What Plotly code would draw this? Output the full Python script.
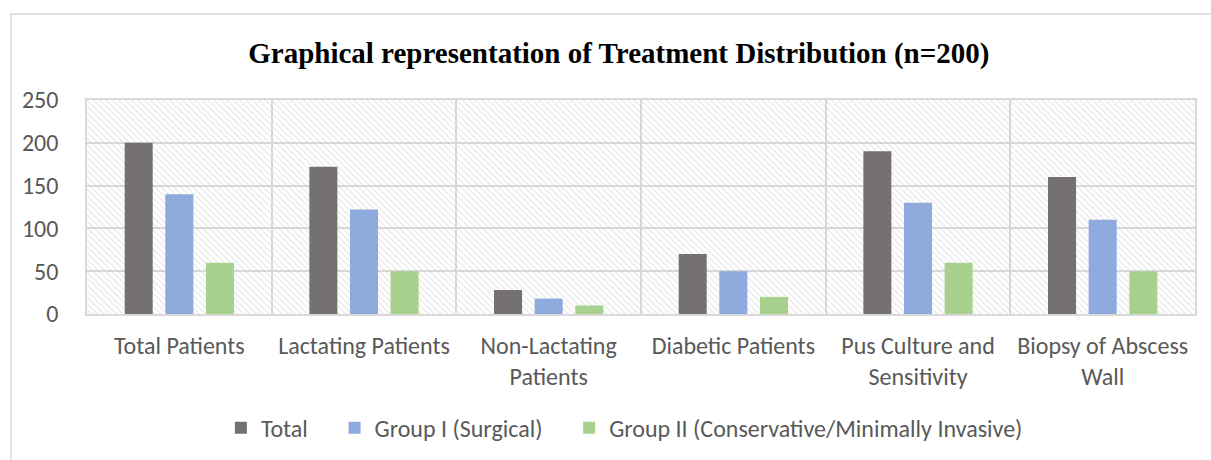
import plotly.graph_objects as go

categories = ["Total Patients", "Lactating Patients", "Non-Lactating<br>Patients",
              "Diabetic Patients", "Pus Culture and<br>Sensitivity", "Biopsy of Abscess<br>Wall"]
total = [200, 172, 28, 70, 190, 160]
group1 = [140, 122, 18, 50, 130, 110]
group2 = [60, 50, 10, 20, 60, 50]
y_ticks = [0, 50, 100, 150, 200, 250]

series = [
    ("Total", total, "#767171"),
    ("Group I (Surgical)", group1, "#8FAADC"),
    ("Group II (Conservative/Minimally Invasive)", group2, "#A9D18E"),
]

FONT = "Carlito, Lato, 'Liberation Sans', sans-serif"
GRID = "#D9D9D9"
FS = 24
PAD = "\u00a0" * 4  # extra spacing between legend entries

fig = go.Figure()

# hatched plot-area background (decoration) on the hidden main axes
fig.add_trace(go.Bar(
    x=[0.5], y=[1], width=[1], xaxis="x", yaxis="y",
    marker=dict(color="rgba(0,0,0,0)", line=dict(width=0),
                pattern=dict(shape="\\", fgcolor="#C9C9C9", bgcolor="rgba(0,0,0,0)",
                             size=4.5, solidity=0.25)),
    showlegend=False, hoverinfo="skip",
))

for i, (name, vals, color) in enumerate(series):
    fig.add_trace(go.Bar(
        x=categories, y=vals, name=name + (PAD if i < len(series) - 1 else ""),
        xaxis="x2", yaxis="y2",
        marker=dict(color=color, line=dict(width=0)),
    ))

fig.update_layout(
    width=1211, height=460,
    margin=dict(l=87, r=16, t=100, b=146, autoexpand=False),
    paper_bgcolor="white", plot_bgcolor="white",
    barmode="group", bargap=0.34, bargroupgap=0.31,
    font=dict(family=FONT, size=FS, color="#595959"),
    title=dict(text="<b>Graphical representation of Treatment Distribution (n=200)</b>",
               x=0.511, xref="container", xanchor="center",
               y=1 - 53 / 460, yref="container", yanchor="middle",
               font=dict(family="'Liberation Serif', 'Times New Roman', serif", size=29, color="black")),
    xaxis=dict(range=[0, 1], visible=False, fixedrange=True, automargin=False),
    yaxis=dict(range=[0, 1], visible=False, fixedrange=True, automargin=False),
    xaxis2=dict(overlaying="x", anchor="y2", type="category", side="bottom",
                tickson="boundaries", showgrid=True, gridcolor=GRID, gridwidth=1.5,
                showline=True, linecolor=GRID, linewidth=1.5, mirror=True, automargin=False,
                ticks="", ticklabelstandoff=9, tickfont=dict(size=FS, color="#595959")),
    yaxis2=dict(overlaying="y", anchor="x2", side="left", range=[0, 250],
                tickvals=y_ticks, showgrid=True, gridcolor=GRID, gridwidth=1.5,
                showline=True, linecolor=GRID, linewidth=1.5, mirror=True, automargin=False,
                ticks="", ticklabelstandoff=22, zeroline=False,
                tickfont=dict(size=FS, color="#595959")),
    legend=dict(orientation="h", x=0.485, xanchor="center", y=-0.533, yanchor="middle",
                font=dict(size=FS, color="#595959"), traceorder="normal"),
    shapes=[dict(type="rect", xref="paper", yref="paper",
                 x0=-0.0686, x1=1.03, y0=-0.75, y1=1.402,
                 line=dict(color=GRID, width=1.5), fillcolor="rgba(0,0,0,0)", layer="below")],
)

fig.write_html("out.html", config={"displayModeBar": False},
               post_script="document.body.style.margin='0';")
